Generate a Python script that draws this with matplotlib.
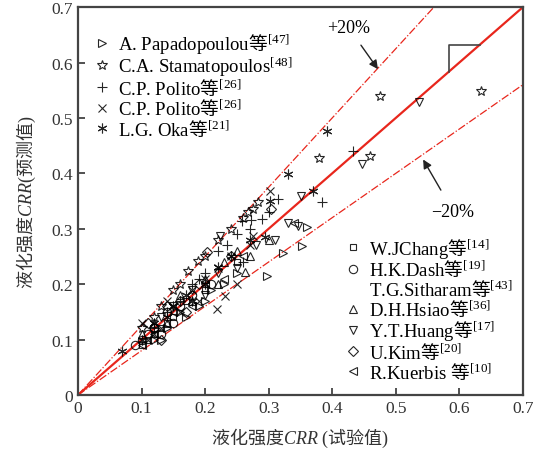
import numpy as np
import matplotlib
matplotlib.use('Agg')
import matplotlib.pyplot as plt
from matplotlib.lines import Line2D

plt.rcParams['font.family'] = ['Liberation Serif', 'Noto Sans CJK SC']
# 数学文本: 拉丁字母用衬线体, 汉字走 \mathsf
plt.rcParams['mathtext.fontset'] = 'custom'
plt.rcParams['mathtext.rm'] = 'Liberation Serif'
plt.rcParams['mathtext.it'] = 'Liberation Serif:italic'
plt.rcParams['mathtext.sf'] = 'Noto Sans CJK SC'
plt.rcParams['mathtext.default'] = 'rm'

# 试验值 / 预测值 (x, y)
pap_x = [0.297, 0.322, 0.352, 0.360, 0.250, 0.200, 0.170, 0.140, 0.130, 0.210, 0.230, 0.120, 0.160, 0.190]
pap_y = [0.215, 0.256, 0.269, 0.303, 0.220, 0.170, 0.140, 0.120, 0.100, 0.190, 0.200, 0.100, 0.150, 0.160]
sta_x = [0.634, 0.475, 0.459, 0.379, 0.284, 0.268, 0.189, 0.173, 0.150, 0.220, 0.260, 0.130, 0.160, 0.200, 0.120, 0.100, 0.240, 0.275]
sta_y = [0.548, 0.539, 0.431, 0.428, 0.348, 0.330, 0.242, 0.224, 0.190, 0.280, 0.320, 0.160, 0.200, 0.250, 0.140, 0.120, 0.300, 0.335]
pol1_x = [0.433, 0.384, 0.315, 0.258, 0.273, 0.289, 0.300, 0.250, 0.220, 0.200, 0.180, 0.160, 0.140, 0.120, 0.260, 0.270, 0.235, 0.190]
pol1_y = [0.440, 0.348, 0.354, 0.314, 0.316, 0.318, 0.330, 0.290, 0.260, 0.220, 0.200, 0.170, 0.150, 0.120, 0.240, 0.300, 0.270, 0.210]
pol2_x = [0.302, 0.275, 0.219, 0.231, 0.100, 0.240, 0.180, 0.150, 0.130, 0.200, 0.160, 0.110, 0.220, 0.190, 0.270, 0.250, 0.140, 0.120]
pol2_y = [0.368, 0.287, 0.155, 0.179, 0.130, 0.250, 0.190, 0.160, 0.120, 0.210, 0.150, 0.100, 0.230, 0.170, 0.270, 0.200, 0.170, 0.110]
oka_x = [0.391, 0.370, 0.331, 0.302, 0.294, 0.220, 0.070, 0.100, 0.120, 0.150, 0.170, 0.200, 0.240, 0.270, 0.140, 0.180]
oka_y = [0.476, 0.368, 0.399, 0.350, 0.285, 0.231, 0.080, 0.100, 0.130, 0.160, 0.180, 0.200, 0.250, 0.280, 0.140, 0.170]
cha_x = [0.110, 0.130, 0.150, 0.120, 0.170, 0.200, 0.100, 0.140, 0.250]
cha_y = [0.100, 0.120, 0.140, 0.110, 0.170, 0.190, 0.090, 0.130, 0.240]
das_x = [0.100, 0.120, 0.140, 0.160, 0.130, 0.180, 0.110, 0.150, 0.210, 0.090]
das_y = [0.100, 0.120, 0.150, 0.160, 0.110, 0.180, 0.110, 0.130, 0.200, 0.090]
hsi_x = [0.250, 0.263, 0.200, 0.180, 0.160, 0.140, 0.120, 0.220, 0.270, 0.230, 0.300, 0.100]
hsi_y = [0.260, 0.222, 0.210, 0.170, 0.180, 0.130, 0.130, 0.200, 0.250, 0.240, 0.280, 0.110]
hua_x = [0.536, 0.447, 0.351, 0.223, 0.310, 0.346, 0.250, 0.220, 0.180, 0.150, 0.130, 0.280, 0.200, 0.330]
hua_y = [0.529, 0.417, 0.359, 0.287, 0.280, 0.305, 0.230, 0.220, 0.190, 0.160, 0.140, 0.270, 0.180, 0.310]
kim_x = [0.304, 0.203, 0.160, 0.140, 0.120, 0.110, 0.190, 0.240, 0.130, 0.170]
kim_y = [0.336, 0.258, 0.170, 0.160, 0.120, 0.130, 0.200, 0.250, 0.100, 0.150]
kue_x = [0.340, 0.260, 0.200, 0.150, 0.120, 0.180, 0.230, 0.100]
kue_y = [0.310, 0.250, 0.200, 0.150, 0.110, 0.160, 0.210, 0.090]

labels_a = ['A. Papadopoulou$\\mathsf{等}^{[47]}$', 'C.A. Stamatopoulos$^{[48]}$',
            'C.P. Polito$\\mathsf{等}^{[26]}$', 'C.P. Polito$\\mathsf{等}^{[26]}$',
            'L.G. Oka$\\mathsf{等}^{[21]}$']
labels_b = ['W.JChang$\\mathsf{等}^{[14]}$', 'H.K.Dash$\\mathsf{等}^{[19]}$',
            'T.G.Sitharam$\\mathsf{等}^{[43]}$', 'D.H.Hsiao$\\mathsf{等}^{[36]}$',
            'Y.T.Huang$\\mathsf{等}^{[17]}$', 'U.Kim$\\mathsf{等}^{[20]}$',
            'R.Kuerbis $\\mathsf{等}^{[10]}$']

ticks = [0, 0.1, 0.2, 0.3, 0.4, 0.5, 0.6, 0.7]
tick_labels = ['0', '0.1', '0.2', '0.3', '0.4', '0.5', '0.6', '0.7']

fig = plt.figure(figsize=(5.43, 4.52), dpi=100)
ax = fig.add_axes([0.1436, 0.124, 0.8194, 0.858])

red = '#e8261c'
xx = np.array([0, 0.7])
ax.plot(xx, xx, color=red, lw=1.6, zorder=1)
ax.plot(xx, xx / 0.8, color=red, lw=0.9, ls='-.', zorder=1)
ax.plot(xx, xx * 0.8, color=red, lw=0.9, ls='-.', zorder=1)

# 斜率三角
ax.plot([0.583, 0.583, 0.632], [0.583, 0.632, 0.632], color='#444444', lw=1.2)

kw = dict(ls='none', mfc='none', mec='black', mew=0.8, ms=6, alpha=0.85)
h1 = ax.plot(pap_x, pap_y, marker='>', **kw)[0]
h2 = ax.plot(sta_x, sta_y, marker='*', **dict(kw, ms=7))[0]
h3 = ax.plot(pol1_x, pol1_y, marker='+', **dict(kw, ms=7))[0]
h4 = ax.plot(pol2_x, pol2_y, marker='x', **kw)[0]
h5 = ax.plot(oka_x, oka_y, marker=(6, 2, 0), **dict(kw, ms=7))[0]
h6 = ax.plot(cha_x, cha_y, marker='s', **dict(kw, ms=5))[0]
h7 = ax.plot(das_x, das_y, marker='o', **kw)[0]
h8 = ax.plot(hsi_x, hsi_y, marker='^', **kw)[0]
h9 = ax.plot(hua_x, hua_y, marker='v', **kw)[0]
h10 = ax.plot(kim_x, kim_y, marker='D', **dict(kw, ms=5))[0]
h11 = ax.plot(kue_x, kue_y, marker='<', **kw)[0]
blank = Line2D([], [], ls='none', marker=None)

fs = 12.5
fl = 13.5
leg1 = ax.legend([h1, h2, h3, h4, h5], labels_a,
                 loc='upper left', bbox_to_anchor=(0.006, 0.972), frameon=False, fontsize=fl,
                 handlelength=0.9, handletextpad=0.4, labelspacing=-0.04, borderaxespad=0.3)
ax.add_artist(leg1)
ax.legend([h6, h7, blank, h8, h9, h10, h11], labels_b,
          loc='lower left', bbox_to_anchor=(0.57, 0.0), frameon=False, fontsize=fl,
          handlelength=0.9, handletextpad=0.4, labelspacing=-0.06, borderaxespad=0.3)

ax.annotate('+20%', xy=(0.472, 0.588), xytext=(0.425, 0.664), fontsize=13,
            ha='center', va='center',
            arrowprops=dict(arrowstyle='-|>', color='#222222', lw=1.0, shrinkA=6, shrinkB=0))
ax.annotate('\u221220%', xy=(0.543, 0.425), xytext=(0.59, 0.332), fontsize=13,
            ha='center', va='center',
            arrowprops=dict(arrowstyle='-|>', color='#222222', lw=1.0, shrinkA=8, shrinkB=0))

ax.set_xlim(0, 0.7)
ax.set_ylim(0, 0.7)
ax.set_xticks(ticks)
ax.set_xticklabels(tick_labels)
ax.set_yticks(ticks)
ax.set_yticklabels(tick_labels)
ax.tick_params(direction='in', length=5, width=1.2, labelsize=fs, colors='#333333')
for s in ax.spines.values():
    s.set_linewidth(1.6)
    s.set_color('#444444')

ax.set_xlabel('$\\mathsf{液化强度}\\mathit{CRR}$ ($\\mathsf{试验值}$)', fontsize=13,
              color='#333333', labelpad=7)
ax.set_ylabel('$\\mathsf{液化强度}\\mathit{CRR}$($\\mathsf{预测值}$)', fontsize=13,
              color='#333333', labelpad=10)

fig.savefig('out.png', dpi=100)
